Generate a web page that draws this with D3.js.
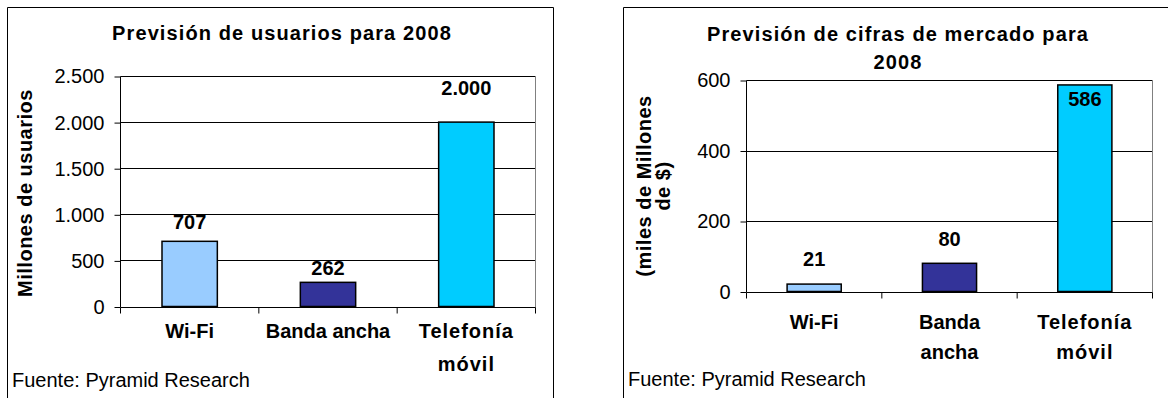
<!DOCTYPE html>
<html>
<head>
<meta charset="utf-8">
<script src="https://cdn.jsdelivr.net/npm/d3@7/dist/d3.min.js"></script>
<style>
  html, body { margin: 0; padding: 0; background: #fff; }
  svg { display: block; font-family: "Liberation Sans", Arial, sans-serif; }
</style>
</head>
<body>
<svg id="chart" width="1168" height="398"></svg>
<script>
// Forecast figures for 2008
const categories = ["Wi-Fi", "Banda ancha", "Telefonía móvil"];
const usuarios = [707, 262, 2000];          // millones de usuarios
const mercado = [21, 80, 586];              // miles de millones de $
const usuariosTicks = [0, 500, 1000, 1500, 2000, 2500];
const mercadoTicks = [0, 200, 400, 600];
const usuariosCatLines = [["Wi-Fi"], ["Banda ancha"], ["Telefonía", "móvil"]];
const mercadoCatLines = [["Wi-Fi"], ["Banda", "ancha"], ["Telefonía", "móvil"]];
const barColors = ["#99CCFF", "#333399", "#00CCFF"];

const es = d3.formatLocale({ decimal: ",", thousands: ".", grouping: [3], currency: ["", "$"] });
const fmt = es.format(",");

const svg = d3.select("#chart");

function drawChart(cfg) {
  const g = svg.append("g");

  // chart frame (left, top and right edges only where visible)
  g.append("path")
    .attr("d", cfg.frame)
    .attr("fill", "none")
    .attr("stroke", "#000")
    .attr("stroke-width", 1);

  const x = d3.scaleBand()
    .domain(categories)
    .range([cfg.left, cfg.right])
    .paddingInner(0.6)
    .paddingOuter(0.3);

  const y = d3.scaleLinear()
    .domain([0, d3.max(cfg.ticks)])
    .range([cfg.bottom, cfg.top]);

  // gridlines
  g.append("g").selectAll("line")
    .data(cfg.ticks.filter(t => t > 0))
    .join("line")
    .attr("x1", cfg.left).attr("x2", cfg.right)
    .attr("y1", d => Math.round(y(d)) + 0.5).attr("y2", d => Math.round(y(d)) + 0.5)
    .attr("stroke", "#000").attr("stroke-width", 1);

  // plot-area right edge
  g.append("line")
    .attr("x1", cfg.right).attr("x2", cfg.right)
    .attr("y1", Math.round(y(d3.max(cfg.ticks))) + 0.5).attr("y2", Math.round(cfg.bottom) + 0.5)
    .attr("stroke", "#808080").attr("stroke-width", 1);

  // y axis
  const yAxis = d3.axisLeft(y)
    .tickValues(cfg.ticks)
    .tickFormat(fmt)
    .tickSize(6)
    .tickPadding(10);
  const ya = g.append("g")
    .attr("transform", `translate(${cfg.left},0.5)`)
    .call(yAxis);
  ya.select(".domain").attr("stroke", "#000").attr("d", `M0,${y(d3.max(cfg.ticks))}V${cfg.bottom}`);
  ya.selectAll(".tick line").attr("stroke", "#000");
  ya.selectAll(".tick text")
    .attr("fill", "#000")
    .style("font-size", "20px")
    .style("font-family", "'Liberation Sans', Arial, sans-serif");

  // x axis baseline and category separators
  const step = x.step();
  const xb = Math.round(cfg.bottom) + 0.5;
  g.append("line")
    .attr("x1", cfg.left).attr("x2", cfg.right)
    .attr("y1", xb).attr("y2", xb)
    .attr("stroke", "#000");
  g.append("g").selectAll("line")
    .data(d3.range(categories.length + 1))
    .join("line")
    .attr("x1", i => cfg.left + i * step).attr("x2", i => cfg.left + i * step)
    .attr("y1", xb).attr("y2", xb + 6)
    .attr("stroke", "#000");

  // bars
  g.append("g").selectAll("rect")
    .data(cfg.values)
    .join("rect")
    .attr("x", (d, i) => x(categories[i]))
    .attr("y", d => y(d))
    .attr("width", x.bandwidth())
    .attr("height", d => y(0) - y(d))
    .attr("fill", (d, i) => barColors[i])
    .attr("stroke", "#000")
    .attr("stroke-width", 1.5);

  // value labels
  g.append("g").selectAll("text")
    .data(cfg.values)
    .join("text")
    .attr("x", (d, i) => x(categories[i]) + x.bandwidth() / 2)
    .attr("y", (d, i) => y(d) - cfg.labelGap[i])
    .attr("text-anchor", "middle")
    .style("font-size", "20px")
    .style("font-weight", "bold")
    .text(d => fmt(d));

  // category labels
  const cat = g.append("g").selectAll("text")
    .data(cfg.catLines)
    .join("text")
    .attr("x", (d, i) => x(categories[i]) + x.bandwidth() / 2)
    .attr("y", cfg.catY)
    .attr("text-anchor", "middle")
    .style("font-size", "20px")
    .style("font-weight", "bold");
  cat.selectAll("tspan")
    .data((d, i) => d.map(s => ({ s, i })))
    .join("tspan")
    .attr("x", function () { return d3.select(this.parentNode).attr("x"); })
    .attr("dy", (d, j) => j === 0 ? 0 : cfg.catLineH)
    .style("letter-spacing", d => d.i === 2 ? "1px" : "0px")
    .text(d => d.s);

  // title
  const title = g.append("text")
    .attr("x", cfg.titleX)
    .attr("y", cfg.titleY)
    .attr("text-anchor", "middle")
    .style("font-size", "20px")
    .style("font-weight", "bold")
    .style("letter-spacing", "1.1px");
  title.selectAll("tspan")
    .data(cfg.title)
    .join("tspan")
    .attr("x", cfg.titleX)
    .attr("dy", (d, j) => j === 0 ? 0 : cfg.titleLineH)
    .text(d => d);

  // y-axis title
  const yt = g.append("text")
    .attr("transform", `translate(${cfg.yTitleX},${cfg.yTitleY}) rotate(-90)`)
    .attr("text-anchor", "middle")
    .style("font-size", "20px")
    .style("font-weight", "bold")
    .style("letter-spacing", "0.5px");
  yt.selectAll("tspan")
    .data(cfg.yTitle)
    .join("tspan")
    .attr("x", 0)
    .attr("dy", (d, j) => j === 0 ? 0 : cfg.yTitleLineH)
    .text(d => d);

  // source note
  g.append("text")
    .attr("x", cfg.sourceX)
    .attr("y", cfg.sourceY)
    .style("font-size", "20px")
    .text("Fuente: Pyramid Research");
}

drawChart({
  frame: "M7.5,398V7.5H553.5V398",
  left: 120.5, right: 535.5, top: 76, bottom: 306.5,
  ticks: usuariosTicks,
  values: usuarios,
  labelGap: [12, 7, 27],
  catLines: usuariosCatLines, catY: 338, catLineH: 33,
  title: ["Previsión de usuarios para 2008"], titleX: 282, titleY: 39.5, titleLineH: 27,
  yTitle: ["Millones de usuarios"], yTitleX: 32, yTitleY: 193, yTitleLineH: 0,
  sourceX: 12, sourceY: 387
});

drawChart({
  frame: "M623.5,398V7.5H1168",
  left: 746.5, right: 1152.5, top: 80, bottom: 291.5,
  ticks: mercadoTicks,
  values: mercado,
  labelGap: [18, 17, -21],
  catLines: mercadoCatLines, catY: 329, catLineH: 30,
  title: ["Previsión de cifras de mercado para", "2008"], titleX: 898, titleY: 40.5, titleLineH: 28,
  yTitle: ["(miles de Millones", "de $)"], yTitleX: 651, yTitleY: 186, yTitleLineH: 19,
  sourceX: 628, sourceY: 386
});
</script>
</body>
</html>
